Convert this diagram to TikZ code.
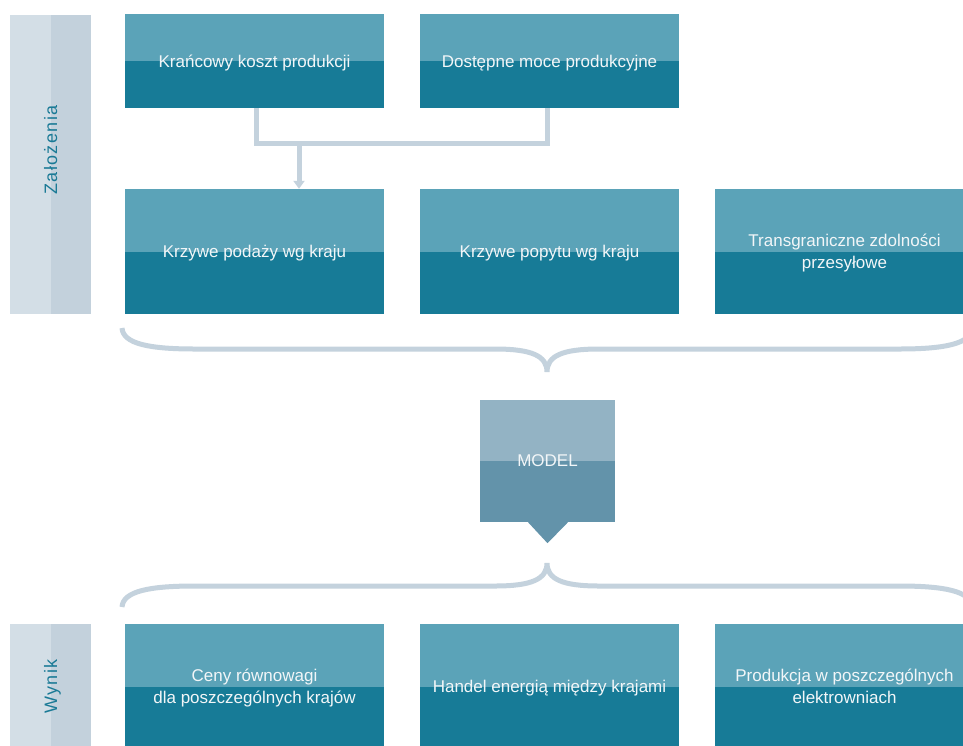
\documentclass[tikz,border=0pt]{standalone}
\usepackage{fontspec}
\setmainfont{Liberation Sans}
\newfontfamily\sidefont[LetterSpace=8]{Liberation Sans}
\usetikzlibrary{arrows.meta}
\definecolor{boxtop}{RGB}{91,163,184}
\definecolor{boxbot}{RGB}{23,123,151}
\definecolor{modeltop}{RGB}{147,179,196}
\definecolor{modelbot}{RGB}{99,147,170}
\definecolor{sidelight}{RGB}{211,222,230}
\definecolor{sidedark}{RGB}{195,209,220}
\definecolor{connc}{RGB}{196,210,221}
\definecolor{sidetextc}{RGB}{26,122,150}
\definecolor{boxtext}{RGB}{242,246,248}
\tikzset{
  box/.style={fill=boxbot, minimum width=259pt, minimum height=#1, inner sep=0pt,
    text=boxtext, align=center, text depth=0pt, font=\fontsize{17}{22}\selectfont,
    path picture={\fill[boxtop] (path picture bounding box.north west) rectangle (path picture bounding box.east);}},
  modelbox/.style={fill=modelbot, minimum width=135pt, minimum height=122pt, inner sep=0pt,
    text=boxtext, text depth=0pt, font=\fontsize{17}{22}\selectfont,
    path picture={\fill[modeltop] (path picture bounding box.north west) rectangle (path picture bounding box.east);}},
  sidebar/.style={fill=sidedark, minimum width=81pt, minimum height=#1, inner sep=0pt,
    path picture={\fill[sidelight] (path picture bounding box.north west) rectangle (path picture bounding box.south);}},
  sidetext/.style={text=sidetextc, font=\sidefont\fontsize{18}{22}\selectfont, rotate=90, anchor=base, inner sep=0pt},
  conn/.style={draw=connc, line width=5pt, line join=miter},
  bracec/.style={draw=connc, line width=5pt},
}
\begin{document}
\begin{tikzpicture}[x=1pt,y=-1pt]
\clip (0,0) rectangle (963,745);
\fill[white] (0,0) rectangle (963,745);

% sidebars
\node[sidebar=299pt] (side1) at (50.5,164.5) {};
\node[sidetext] (t1) at (57,150) {Założenia};
\node[sidebar=125pt] (side2) at (50.5,686.5) {};
\node[sidetext] (t2) at (57,686.5) {Wynik};

% row 1
\node[box=94pt] (k1) at (254.5,61) {Krańcowy koszt produkcji};
\node[box=94pt] (k2) at (549.5,61) {Dostępne moce produkcyjne};

% row 2
\node[box=125pt] (s1) at (254.5,251.5) {Krzywe podaży wg kraju};
\node[box=125pt] (s2) at (549.5,251.5) {Krzywe popytu wg kraju};
\node[box=125pt] (s3) at (844.5,251.5) {Transgraniczne zdolności\\przesyłowe};

% connector
\coordinate (j) at (299,143);
\draw[conn] ([xshift=1.5pt]k1.south) |- (j) -| ([xshift=-2.5pt]k2.south);
\draw[conn,-{Triangle[length=8pt,width=11pt]}] (j) -- (j |- s1.north);

% brace 1
\draw[bracec] (122,328) .. controls (123,344) and (150,349) .. (195,349) -- (495,349)
  .. controls (532,349) and (547,356) .. (547,372)
  .. controls (547,356) and (562,349) .. (599,349) -- (899,349)
  .. controls (944,349) and (971,344) .. (972,328);

% model
\node[modelbox] (model) at (547.5,461) {MODEL};
\fill[modelbot] ([xshift=-19.5pt]model.south) -- ([xshift=20.5pt]model.south) -- ([yshift=-21pt]model.south) -- cycle;

% brace 2
\draw[bracec] (122,607) .. controls (123,591) and (150,586) .. (195,586) -- (495,586)
  .. controls (532,586) and (547,579) .. (547,563)
  .. controls (547,579) and (562,586) .. (599,586) -- (899,586)
  .. controls (944,586) and (971,591) .. (972,607);

% results
\node[box=125pt] (w1) at (254.5,686.5) {Ceny równowagi\\dla poszczególnych krajów};
\node[box=125pt] (w2) at (549.5,686.5) {Handel energią między krajami};
\node[box=125pt] (w3) at (844.5,686.5) {Produkcja w poszczególnych\\elektrowniach};
\end{tikzpicture}
\end{document}
